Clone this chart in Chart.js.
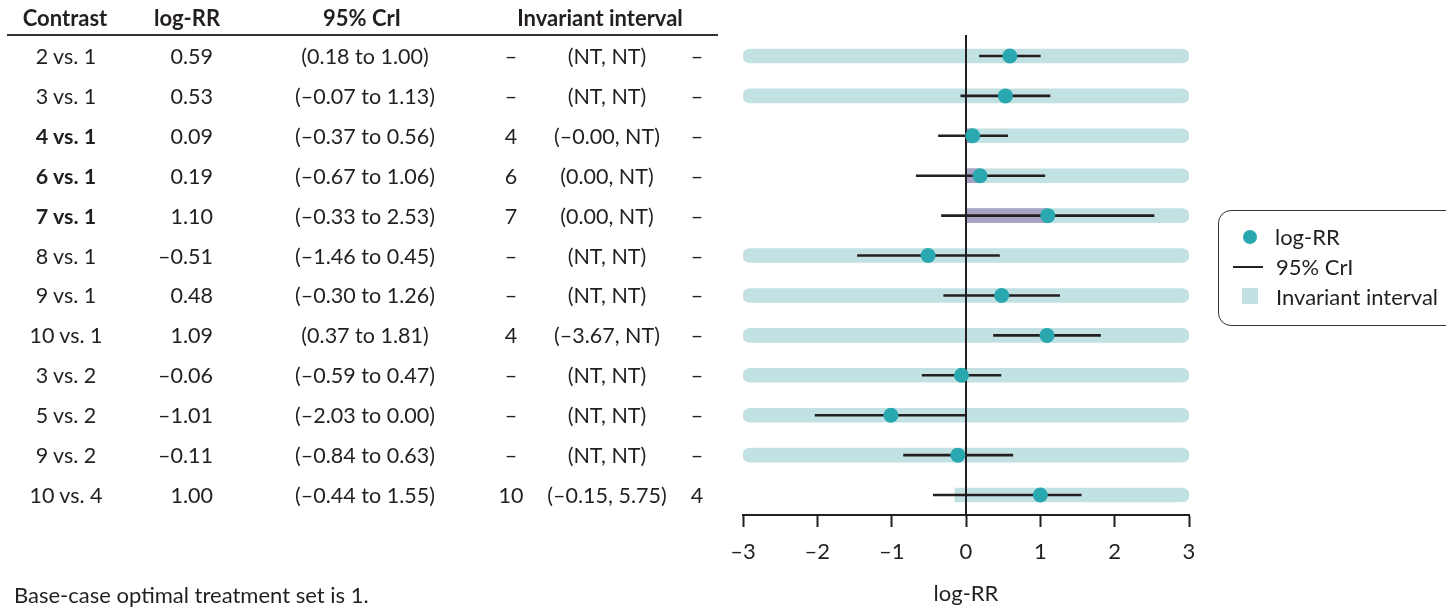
<!DOCTYPE html>
<html>
<head>
<meta charset="utf-8">
<title>Invariant intervals by contrast</title>
<script src="https://cdn.jsdelivr.net/npm/chart.js@4.4.1/dist/chart.umd.min.js"></script>
<style>
  html, body { margin: 0; padding: 0; background: #fff; }
  body {
    width: 1446px; height: 609px; overflow: hidden; position: relative;
    font-family: Lato, 'Noto Sans', sans-serif; color: #231f20;
  }
  #chart { position: absolute; left: 0; top: 0; }
  .cell { position: absolute; font-size: 21.5px; line-height: 24px; white-space: nowrap; }
  .center { transform: translateX(-50%); }
  .bold { font-weight: 700; }
  .head { font-weight: 700; font-size: 22px; }
  #rule { position: absolute; left: 7px; top: 33.5px; width: 711px; height: 2px; background: #333; }
  #note { position: absolute; left: 14px; top: 583px; font-size: 22px; line-height: 24px; }
  #legend {
    position: absolute; left: 1218px; top: 210px; width: 260px; height: 116px;
    border: 1.5px solid #333; border-radius: 13px; box-sizing: border-box;
  }
  #legend .item { position: absolute; left: 0; font-size: 22px; line-height: 24px; white-space: nowrap; }
  #legend .sym { position: absolute; }
</style>
</head>
<body>
<canvas id="chart" width="1446" height="609"></canvas>
<div id="rule"></div>
<div id="note">Base-case optimal treatment set is 1.</div>
<div id="legend">
  <div class="sym" style="left:24px;top:19px;width:14px;height:14px;border-radius:50%;background:#2aa8b0"></div>
  <div class="item" style="left:56px;top:14px">log-RR</div>
  <div class="sym" style="left:14px;top:55px;width:30px;height:2px;background:#231f20"></div>
  <div class="item" style="left:57px;top:44px">95% CrI</div>
  <div class="sym" style="left:23px;top:77px;width:16px;height:16px;background:#c2e1e3"></div>
  <div class="item" style="left:57px;top:74px">Invariant interval</div>
</div>
<script>
const contrasts = ['2 vs. 1', '3 vs. 1', '4 vs. 1', '6 vs. 1', '7 vs. 1', '8 vs. 1',
                   '9 vs. 1', '10 vs. 1', '3 vs. 2', '5 vs. 2', '9 vs. 2', '10 vs. 4'];
const highlighted = [false, false, true, true, true, false, false, false, false, false, false, false];
const logRR = [0.59, 0.53, 0.09, 0.19, 1.10, -0.51, 0.48, 1.09, -0.06, -1.01, -0.11, 1.00];
const criLower = [0.18, -0.07, -0.37, -0.67, -0.33, -1.46, -0.30, 0.37, -0.59, -2.03, -0.84, -0.44];
const criUpper = [1.00, 1.13, 0.56, 1.06, 2.53, 0.45, 1.26, 1.81, 0.47, 0.00, 0.63, 1.55];
// null means NT (no threshold)
const invLower = [null, null, -0, 0, 0, null, null, -3.67, null, null, null, -0.15];
const invUpper = [null, null, null, null, null, null, null, null, null, null, null, 5.75];
const invLowerSet = ['–', '–', '4', '6', '7', '–', '–', '4', '–', '–', '–', '10'];
const invUpperSet = ['–', '–', '–', '–', '–', '–', '–', '–', '–', '–', '–', '4'];
const xTicks = [-3, -2, -1, 0, 1, 2, 3];

const xMin = xTicks[0];
const xMax = xTicks[xTicks.length - 1];
const dash = '\u2013';
const ink = '#231f20';

const fmt = v => (v < 0 || Object.is(v, -0) ? dash : '') + Math.abs(v).toFixed(2);
const clamp = v => Math.max(xMin, Math.min(xMax, v));

Chart.defaults.font.family = 'Lato, "Noto Sans", sans-serif';
Chart.defaults.font.size = 22;
Chart.defaults.color = ink;

// vertical reference line at 0, drawn over the interval bars but under CrI lines and points
const zeroLine = {
    id: 'zeroLine',
    beforeDatasetDraw(chart, args) {
        if (args.index !== 2) return;
        const { ctx, chartArea } = chart;
        const x = chart.scales.x.getPixelForValue(0);
        ctx.save();
        ctx.beginPath();
        ctx.moveTo(x, chartArea.top - 1);
        ctx.lineTo(x, chartArea.bottom);
        ctx.lineWidth = 2;
        ctx.strokeStyle = ink;
        ctx.stroke();
        ctx.restore();
    }
};

const ctx = document.getElementById('chart').getContext('2d');
const chart = new Chart(ctx, {
    data: {
        labels: contrasts,
        datasets: [{
            type: 'bar',
            label: 'Invariant interval',
            data: contrasts.map((_, i) => [
                clamp(invLower[i] === null ? -Infinity : invLower[i]),
                clamp(invUpper[i] === null ? Infinity : invUpper[i])
            ]),
            backgroundColor: '#c2e1e3',
            barThickness: 14,
            grouped: false,
            borderSkipped: false,
            borderRadius: c => {
                const i = c.dataIndex;
                const l = invLower[i] === null || invLower[i] <= xMin ? 7 : 0;
                const r = invUpper[i] === null || invUpper[i] >= xMax ? 7 : 0;
                return { topLeft: l, bottomLeft: l, topRight: r, bottomRight: r };
            },
            order: 3
        }, {
            type: 'bar',
            label: 'Lower bound to log-RR',
            data: contrasts.map((_, i) => highlighted[i] ? [invLower[i], logRR[i]] : null),
            backgroundColor: '#a6a3c4',
            barThickness: 14,
            grouped: false,
            borderSkipped: false,
            order: 2
        }, {
            type: 'bar',
            label: '95% CrI',
            data: contrasts.map((_, i) => [criLower[i], criUpper[i]]),
            backgroundColor: ink,
            barThickness: 2,
            grouped: false,
            borderSkipped: false,
            order: 1
        }, {
            type: 'line',
            label: 'log-RR',
            data: logRR.map((v, i) => ({ x: v, y: contrasts[i] })),
            showLine: false,
            pointRadius: 7.5,
            pointBackgroundColor: '#2aa8b0',
            pointBorderWidth: 0,
            order: 0
        }]
    },
    options: {
        indexAxis: 'y',
        responsive: false,
        animation: false,
        layout: { padding: { left: 743, right: 257, top: 36, bottom: 2 } },
        plugins: {
            legend: { display: false },
            tooltip: { enabled: false }
        },
        scales: {
            y: { type: 'category', display: false, offset: true },
            x: {
                type: 'linear',
                min: xMin,
                max: xMax,
                afterBuildTicks: s => { s.ticks = xTicks.map(v => ({ value: v })); },
                afterFit: s => { s.height = 92; },
                ticks: {
                    padding: 12,
                    callback: v => v < 0 ? dash + Math.abs(v) : String(v)
                },
                grid: {
                    drawOnChartArea: false,
                    drawTicks: true,
                    tickLength: 12,
                    tickWidth: 2,
                    tickColor: ink
                },
                border: { display: true, color: ink, width: 2 },
                title: {
                    display: true,
                    text: 'log-RR',
                    padding: { top: 0, bottom: 0 }
                }
            }
        }
    },
    plugins: [zeroLine]
});

// table on the left, one row per category of the chart's y scale
function addCell(text, x, y, align, cls) {
    const d = document.createElement('div');
    d.className = 'cell ' + (cls || '');
    d.textContent = text;
    d.style.top = (y - 12) + 'px';
    if (align === 'right') {
        d.style.right = (1446 - x) + 'px';
    } else {
        d.style.left = x + 'px';
        d.classList.add('center');
    }
    document.body.appendChild(d);
}

addCell('Contrast', 65, 18, 'center', 'head');
addCell('log-RR', 187, 18, 'center', 'head');
addCell('95% CrI', 362, 18, 'center', 'head');
addCell('Invariant interval', 600, 18, 'center', 'head');

const yScale = chart.scales.y;
contrasts.forEach((c, i) => {
    const y = yScale.getPixelForValue(i);
    const lo = invLower[i] === null ? 'NT' : fmt(invLower[i]);
    const hi = invUpper[i] === null ? 'NT' : fmt(invUpper[i]);
    addCell(c, 66, y, 'center', highlighted[i] ? 'bold' : '');
    addCell(fmt(logRR[i]), 213, y, 'right');
    addCell('(' + fmt(criLower[i]) + ' to ' + fmt(criUpper[i]) + ')', 365, y, 'center');
    addCell(invLowerSet[i], 511, y, 'center');
    addCell('(' + lo + ', ' + hi + ')', 607, y, 'center');
    addCell(invUpperSet[i], 697, y, 'center');
});
</script>
</body>
</html>
